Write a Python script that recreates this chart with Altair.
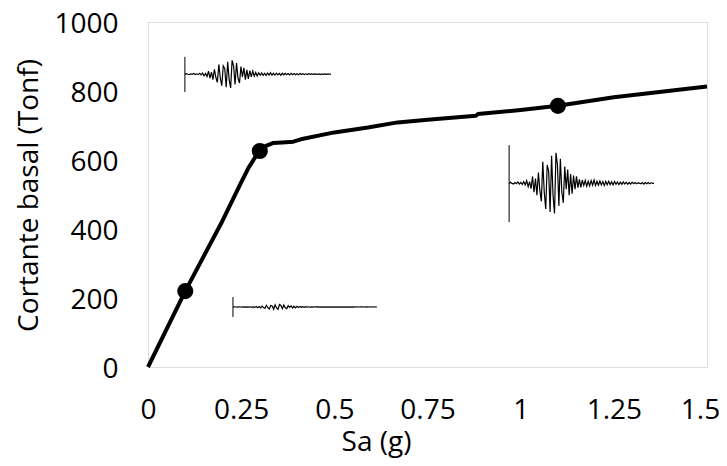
import altair as alt
import pandas as pd

# Main curve
sa = [0, 0.1, 0.2, 0.25, 0.27, 0.29, 0.3, 0.315, 0.335, 0.36, 0.39, 0.41, 0.5, 0.59, 0.67, 0.75, 0.88, 0.885, 1.0, 1.1, 1.25, 1.5]
shear = [0, 220, 424, 535, 578, 612, 626, 640, 649, 651, 653, 660, 680, 694, 709, 717, 728, 733, 745, 757, 782, 813]

# Marked points
pt_sa = [0.1, 0.3, 1.1]
pt_shear = [220, 626, 757]

# Normalised accelerogram trace (hand-read shape)
wave = [0.02, -0.03, 0.01, 0.03, -0.02, 0.02, -0.04, 0.03, -0.02, 0.04, -0.05, 0.06,
        -0.08, 0.12, -0.05, 0.18, -0.22, 0.3, -0.15, 0.4, -0.35, 0.25,
        0.6, -0.7, 0.3, 0.85, -0.6, -0.4, 0.95, -0.9, 0.4, 1.0, -1.0, -0.6, 0.75, -0.8, 0.3, 0.65, -0.55, 0.2,
        -0.45, 0.4, -0.3, 0.35, -0.25, 0.2, -0.22, 0.15, -0.12, 0.14,
        -0.1, 0.08, -0.09, 0.1, -0.06, 0.09, -0.08, 0.07, -0.1, 0.08,
        -0.06, 0.07, -0.07, 0.06, -0.05, 0.08, -0.06, 0.05, -0.06, 0.05,
        -0.04, 0.06, -0.05, 0.04, -0.04, 0.05, -0.03, 0.04, -0.04, 0.03,
        -0.03, 0.04, -0.02, 0.03, -0.03, 0.02, -0.02, 0.02, -0.01, 0.0,
        0.02, -0.02, 0.03, -0.02, 0.02, -0.02, 0.02, -0.01, 0.01, 0.0]

# Inset placement (data units): start x, end x, centre y, amplitude, marker bottom, marker top
inset_names = ["top", "right", "bottom"]
inset_x0 = [0.099, 0.969, 0.228]
inset_x1 = [0.491, 1.358, 0.614]
inset_yc = [849, 533, 174]
inset_amp = [40, 88, 7]
inset_tick_lo = [797, 420, 145]
inset_tick_hi = [899, 643, 203]

rows = []
n = len(wave)
for name, x0, x1, yc, amp in zip(inset_names, inset_x0, inset_x1, inset_yc, inset_amp):
    for i, w in enumerate(wave):
        rows.append({"inset": name, "order": i,
                     "x": x0 + (x1 - x0) * i / (n - 1),
                     "y": yc - amp * w})
wave_df = pd.DataFrame(rows)
tick_df = pd.DataFrame({"x": inset_x0, "ylo": inset_tick_lo, "yhi": inset_tick_hi})

curve_df = pd.DataFrame({"sa": sa, "v": shear})
pts_df = pd.DataFrame({"sa": pt_sa, "v": pt_shear})

FONT = "Open Sans"

xscale = alt.Scale(domain=[0, 1.5], nice=False, zero=False)
yscale = alt.Scale(domain=[0, 1000], nice=False)

xaxis = alt.Axis(values=[0, 0.25, 0.5, 0.75, 1, 1.25, 1.5], format=".2~f",
                 title="Sa (g)", grid=False, domain=False, ticks=False, tickSize=0,
                 labelPadding=51, labelBaseline="alphabetic", labelFontSize=28,
                 labelFont=FONT, labelColor="black", labelFlush=False,
                 labelOffset={"condition": {"test": "datum.value >= 1.5", "value": -7}, "value": 0},
                 titleFont=FONT, titleFontSize=28, titleFontWeight="normal",
                 titleColor="black", titleX=228, titleY=83, titleBaseline="alphabetic",
                 titleAlign="center")
yaxis = alt.Axis(values=[0, 200, 400, 600, 800, 1000], format="d",
                 title="Cortante basal (Tonf)", grid=False, domain=False, ticks=False,
                 tickSize=0, labelPadding=30, labelFontSize=28, labelFont=FONT,
                 labelColor="black", labelFlush=False,
                 labelBaseline="alphabetic", labelOffset=10,
                 titleFont=FONT, titleFontSize=28, titleFontWeight="normal",
                 titleColor="black", titleX=-111, titleY=173, titleBaseline="alphabetic",
                 titleAlign="center", titleAngle=-90)

waves = alt.Chart(wave_df).mark_line(color="black", strokeWidth=1.2).encode(
    x=alt.X("x:Q", scale=xscale, axis=xaxis),
    y=alt.Y("y:Q", scale=yscale, axis=yaxis),
    detail="inset:N",
    order="order:Q",
)

ticks = alt.Chart(tick_df).mark_rule(color="black", strokeWidth=1).encode(
    x="x:Q", y="ylo:Q", y2="yhi:Q"
)

curve = alt.Chart(curve_df).mark_line(color="black", strokeWidth=4, strokeJoin="round").encode(
    x="sa:Q", y="v:Q"
)

points = alt.Chart(pts_df).mark_point(filled=True, color="black", size=260, opacity=1).encode(
    x="sa:Q", y="v:Q"
)

chart = alt.layer(waves, ticks, curve, points).properties(
    width=559, height=345,
    autosize=alt.AutoSizeParams(type="none"),
    padding={"left": 140, "top": 14, "right": 12, "bottom": 91},
).configure_view(stroke="black", strokeWidth=1.5).configure(background="white")

chart.save("out.html", embed_options={"renderer": "svg", "actions": False})
